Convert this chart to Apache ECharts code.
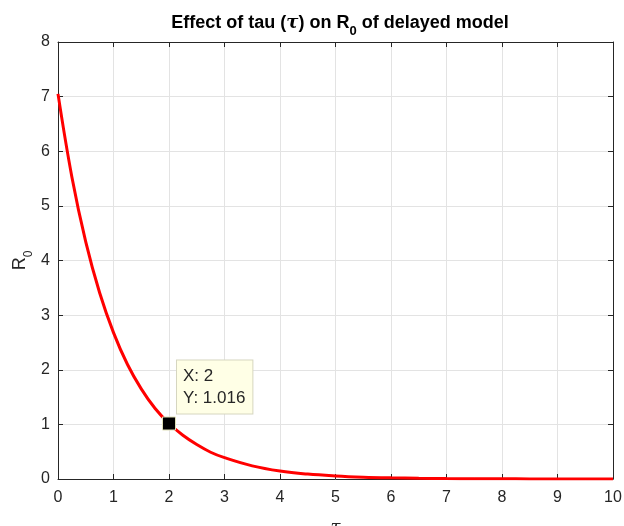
<!DOCTYPE html>
<html>
<head>
<meta charset="utf-8">
<script src="https://cdn.jsdelivr.net/npm/echarts@6/dist/echarts.min.js"></script>
<style>html,body{margin:0;padding:0;background:#fff;}#c{width:624px;height:526px;}</style>
</head>
<body>
<div id="c"></div>
<script>
var tau = [0, 0.25, 0.5, 0.75, 1, 1.25, 1.5, 1.75, 2, 2.25, 2.5, 2.75, 3, 3.5, 4, 4.5, 5, 5.5, 6, 6.5, 7, 7.5, 8, 8.5, 9, 9.5, 10];
var r0 = [7.05, 5.53, 4.34, 3.41, 2.68, 2.10, 1.65, 1.29, 1.016, 0.80, 0.63, 0.49, 0.39, 0.24, 0.146, 0.090, 0.056, 0.034, 0.021, 0.013, 0.008, 0.005, 0.003, 0.002, 0.001, 0.0007, 0.0004];
var tipX = 2;
var tipY = 1.016;
var xTicks = [0, 1, 2, 3, 4, 5, 6, 7, 8, 9, 10];
var yTicks = [0, 1, 2, 3, 4, 5, 6, 7, 8];

var FONT = '"Liberation Sans", Arial, Helvetica, sans-serif';
var axisCol = '#262626';
var chart = echarts.init(document.getElementById('c'), null, {renderer: 'canvas'});

function axisCommon(showLabels, margin) {
  return {
    axisLine: {show: true, onZero: false, lineStyle: {color: axisCol, width: 1}},
    axisTick: {show: true, inside: true, length: 5, lineStyle: {color: axisCol}},
    axisLabel: {show: showLabels, color: axisCol, fontSize: 16, fontFamily: FONT, margin: margin || 8},
    splitLine: {show: showLabels, lineStyle: {color: '#e3e3e3', width: 1}}
  };
}

var xMain = Object.assign({type: 'value', min: xTicks[0], max: xTicks[xTicks.length-1], interval: 1, position: 'bottom',
  name: '\u03C4', nameLocation: 'middle', nameGap: 40, nameMoveOverlap: false,
  nameTextStyle: {fontSize: 18, fontStyle: 'italic', fontFamily: '"DejaVu Serif", serif', color: axisCol}}, axisCommon(true, 11));
var xTop = Object.assign({type: 'value', min: xTicks[0], max: xTicks[xTicks.length-1], interval: 1, position: 'top'}, axisCommon(false));
var yMain = Object.assign({type: 'value', min: yTicks[0], max: yTicks[yTicks.length-1], interval: 1, position: 'left',
  name: '{m|R}{s|0}', nameLocation: 'middle', nameGap: 23, nameRotate: 90, nameMoveOverlap: false,
  nameTextStyle: {color: axisCol, fontFamily: FONT, rich: {
    m: {fontSize: 18, fontFamily: FONT, color: axisCol, verticalAlign: 'top', lineHeight: 24},
    s: {fontSize: 12, fontFamily: FONT, color: axisCol, verticalAlign: 'bottom', lineHeight: 24, padding: [9, 0, 0, 0]}
  }}}, axisCommon(true, 8));
var yRight = Object.assign({type: 'value', min: yTicks[0], max: yTicks[yTicks.length-1], interval: 1, position: 'right'}, axisCommon(false));

var lineData = tau.map(function (t, i) { return [t, r0[i]]; });

chart.setOption({
  animation: false,
  backgroundColor: '#ffffff',
  title: {
    text: '{b|Effect of tau (}{t|\u03C4}{b|) on R}{s|0}{b| of delayed model}',
    left: 335, textAlign: 'center', top: 9,
    textStyle: {rich: {
      b: {fontSize: 18, fontWeight: 'bold', fontFamily: FONT, color: '#000', verticalAlign: 'top', lineHeight: 24},
      t: {fontSize: 18, fontStyle: 'italic', fontFamily: '"DejaVu Serif", serif', color: '#000', verticalAlign: 'top', lineHeight: 24},
      s: {fontSize: 13, fontWeight: 'bold', fontFamily: FONT, color: '#000', verticalAlign: 'bottom', lineHeight: 24, padding: [9, 0, 0, 0]}
    }}
  },
  grid: {left: 58, right: 11, top: 42, bottom: 47, containLabel: false, outerBoundsMode: 'none'},
  xAxis: [xMain, xTop],
  yAxis: [yMain, yRight],
  series: [
    {
      type: 'line', data: lineData, smooth: 0.4, showSymbol: false, symbol: 'none',
      lineStyle: {color: '#ff0000', width: 3}, z: 3, silent: true
    },
    {
      type: 'scatter', data: [[tipX, tipY]], symbol: 'rect', symbolSize: 13, silent: true,
      itemStyle: {color: '#000000', opacity: 1, borderColor: '#e0e0b8', borderWidth: 1}, z: 5,
      label: {
        show: true, position: [15, -56], align: 'left', verticalAlign: 'top',
        formatter: function () { return 'X: ' + tipX + '\nY: ' + tipY.toFixed(3); },
        color: axisCol, fontSize: 17, fontFamily: FONT, lineHeight: 22,
        backgroundColor: '#ffffe6', borderColor: '#d6d6c0', borderWidth: 1,
        padding: [5, 7, 4, 6]
      }
    }
  ]
});
</script>
</body>
</html>
